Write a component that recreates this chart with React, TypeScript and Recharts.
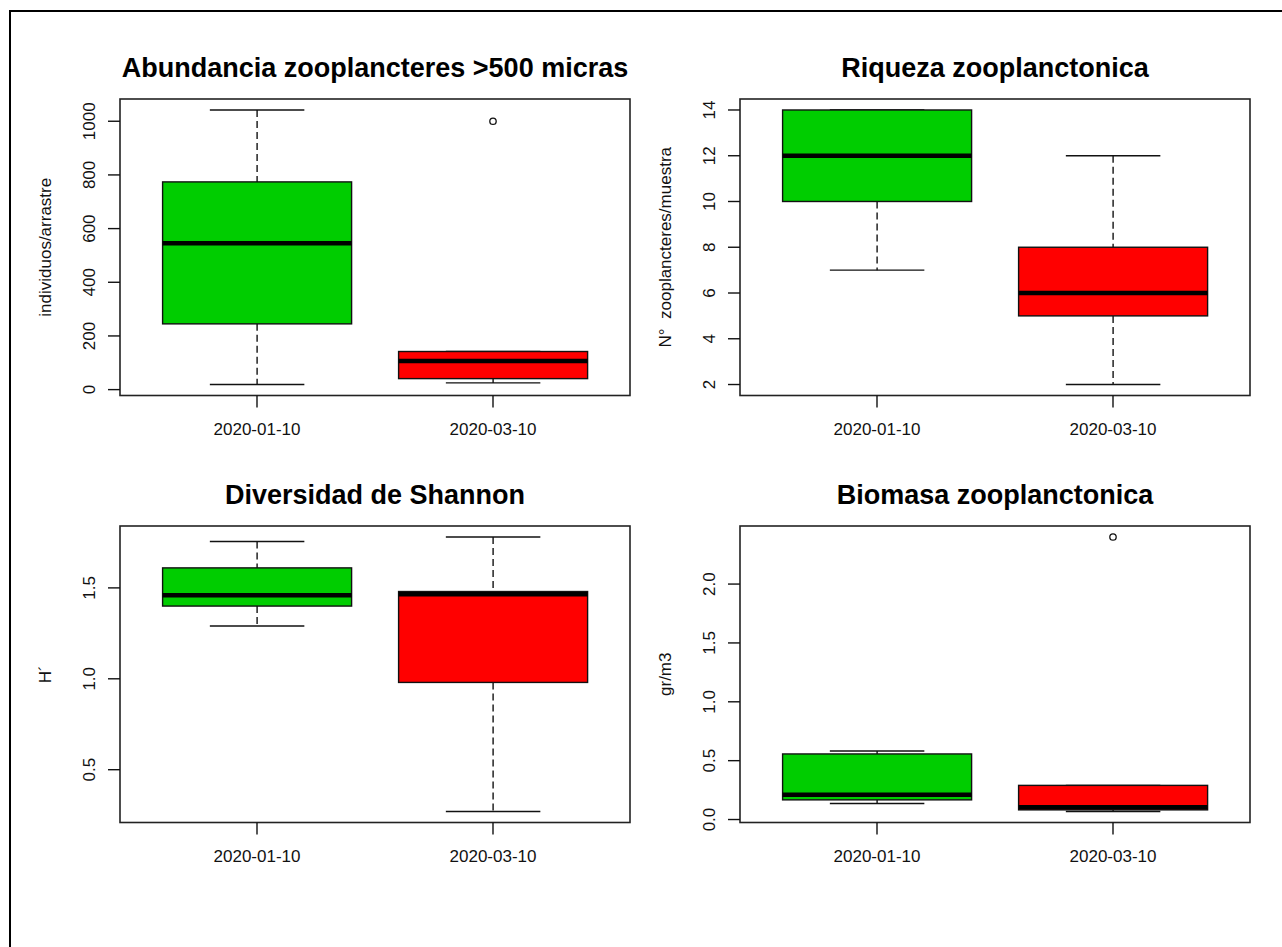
import React from 'react';
import { ComposedChart, Bar, Scatter, XAxis, YAxis, ReferenceArea } from 'recharts';

// Sampling dates shared by all four panels
const categories = ['2020-01-10', '2020-03-10'];
const boxColors = ['#00CD00', '#FF0000'];

// Abundancia zooplancteres >500 micras (individuos/arrastre)
const abundLow = [19, 25];
const abundQ1 = [245, 41];
const abundMedian = [545, 107];
const abundQ3 = [774, 142];
const abundHigh = [1042, 142];
const abundOutliers: number[][] = [[], [1000]];
const abundTicks = [0, 200, 400, 600, 800, 1000];

// Riqueza zooplanctonica (N° zooplancteres/muestra)
const riqLow = [7, 2];
const riqQ1 = [10, 5];
const riqMedian = [12, 6];
const riqQ3 = [14, 8];
const riqHigh = [14, 12];
const riqOutliers: number[][] = [[], []];
const riqTicks = [2, 4, 6, 8, 10, 12, 14];

// Diversidad de Shannon (H')
const shanLow = [1.29, 0.27];
const shanQ1 = [1.4, 0.98];
const shanMedian = [1.46, 1.465];
const shanQ3 = [1.61, 1.48];
const shanHigh = [1.755, 1.78];
const shanOutliers: number[][] = [[], []];
const shanTicks = [0.5, 1.0, 1.5];

// Biomasa zooplanctonica (gr/m3)
const bioLow = [0.136, 0.068];
const bioQ1 = [0.167, 0.082];
const bioMedian = [0.21, 0.105];
const bioQ3 = [0.557, 0.29];
const bioHigh = [0.582, 0.29];
const bioOutliers: number[][] = [[], [2.4]];
const bioTicks = [0.0, 0.5, 1.0, 1.5, 2.0];

const FONT = '"Liberation Sans", Arial, sans-serif';
const INK = '#111';

type PanelDef = {
  title: string;
  yTitle: string;
  low: number[];
  q1: number[];
  median: number[];
  q3: number[];
  high: number[];
  outliers: number[][];
  ticks: number[];
  decimals: number;
};

const panels: PanelDef[] = [
  { title: 'Abundancia zooplancteres >500 micras', yTitle: 'individuos/arrastre', low: abundLow, q1: abundQ1, median: abundMedian, q3: abundQ3, high: abundHigh, outliers: abundOutliers, ticks: abundTicks, decimals: 0 },
  { title: 'Riqueza zooplanctonica', yTitle: 'N°\u00a0 zooplancteres/muestra', low: riqLow, q1: riqQ1, median: riqMedian, q3: riqQ3, high: riqHigh, outliers: riqOutliers, ticks: riqTicks, decimals: 0 },
  { title: 'Diversidad de Shannon', yTitle: 'H´', low: shanLow, q1: shanQ1, median: shanMedian, q3: shanQ3, high: shanHigh, outliers: shanOutliers, ticks: shanTicks, decimals: 1 },
  { title: 'Biomasa zooplanctonica', yTitle: 'gr/m3', low: bioLow, q1: bioQ1, median: bioMedian, q3: bioQ3, high: bioHigh, outliers: bioOutliers, ticks: bioTicks, decimals: 1 },
];

// Chart frame geometry (each panel is the same size)
const CHART_W = 640;
const CHART_H = 470;
const PANEL_POS = [
  { left: 0, top: 0 },
  { left: 620, top: 0 },
  { left: 0, top: 427 },
  { left: 620, top: 427 },
];
const MARGIN = { top: 99, right: 10, bottom: 24.5, left: 50 };
const Y_AXIS_W = 70;
const X_AXIS_H = 50;
const X_PAD = 19;

// Box with median, dashed whiskers and staples; positions derived from the bar's scaled range
function BoxShape(props: any) {
  const { x, y, width, height, payload } = props;
  if (!payload || height == null) return null;
  const { low, q1, median, q3, high, color } = payload;
  const toY = (v: number) => y + ((high - v) / (high - low)) * height;
  const cx = x + width / 2;
  const staple = width / 4;
  const yHigh = toY(high);
  const yQ3 = toY(q3);
  const yMed = toY(median);
  const yQ1 = toY(q1);
  const yLow = toY(low);
  const lw = 1.4;
  return (
    <g>
      {yQ3 - yHigh > 0.5 && (
        <line x1={cx} x2={cx} y1={yHigh} y2={yQ3} stroke={INK} strokeWidth={lw} strokeDasharray="7 4" />
      )}
      {yLow - yQ1 > 0.5 && (
        <line x1={cx} x2={cx} y1={yQ1} y2={yLow} stroke={INK} strokeWidth={lw} strokeDasharray="7 4" />
      )}
      <line x1={cx - staple} x2={cx + staple} y1={yHigh} y2={yHigh} stroke={INK} strokeWidth={lw} />
      <line x1={cx - staple} x2={cx + staple} y1={yLow} y2={yLow} stroke={INK} strokeWidth={lw} />
      <rect x={x} y={yQ3} width={width} height={yQ1 - yQ3} fill={color} stroke={INK} strokeWidth={lw} />
      <line x1={x} x2={x + width} y1={yMed} y2={yMed} stroke="#000" strokeWidth={4.5} />
    </g>
  );
}

function OutlierShape(props: any) {
  const { cx, cy } = props;
  if (cx == null || cy == null) return null;
  return <circle cx={cx} cy={cy} r={3.2} fill="none" stroke={INK} strokeWidth={1.3} />;
}

const makeYTick = (decimals: number) => (props: any) => {
  const { x, y, payload } = props;
  const bx = x - 13;
  return (
    <text x={bx} y={y} transform={`rotate(-90 ${bx} ${y})`} textAnchor="middle" fontSize={17} fontFamily={FONT} fill={INK}>
      {Number(payload.value).toFixed(decimals)}
    </text>
  );
};

const XTick = (props: any) => {
  const { x, y, payload } = props;
  return (
    <text x={x} y={y + 27.5} textAnchor="middle" fontSize={17} fontFamily={FONT} fill={INK}>
      {payload.value}
    </text>
  );
};

function Panel({ def }: { def: PanelDef }) {
  const rows = categories.map((date, i) => ({
    date,
    low: def.low[i],
    q1: def.q1[i],
    median: def.median[i],
    q3: def.q3[i],
    high: def.high[i],
    color: boxColors[i],
  }));
  const outlierRows = categories.flatMap((date, i) => def.outliers[i].map((value) => ({ date, value })));
  const all = [...def.low, ...def.high, ...def.outliers.flat()];
  const lo = Math.min(...all);
  const hi = Math.max(...all);
  const ext = (hi - lo) * 0.04;
  const domain: [number, number] = [lo - ext, hi + ext];

  return (
    <ComposedChart width={CHART_W} height={CHART_H} data={rows} margin={MARGIN} barCategoryGap="10%">
      <XAxis
        dataKey="date"
        type="category"
        allowDuplicatedCategory={false}
        padding={{ left: X_PAD, right: X_PAD }}
        height={X_AXIS_H}
        axisLine={false}
        tickLine={{ stroke: INK, strokeWidth: 1.4 }}
        tickSize={12}
        tickMargin={0}
        tick={<XTick />}
      />
      <YAxis
        type="number"
        domain={domain}
        ticks={def.ticks}
        interval={0}
        allowDataOverflow
        width={Y_AXIS_W}
        axisLine={false}
        tickLine={{ stroke: INK, strokeWidth: 1.4 }}
        tickSize={12}
        tickMargin={0}
        tick={makeYTick(def.decimals)}
        label={(p: any) => {
          const vb = p.viewBox || {};
          const bx = vb.x + vb.width - 69;
          const cy = vb.y + vb.height / 2;
          return (
            <text x={bx} y={cy} transform={`rotate(-90 ${bx} ${cy})`} textAnchor="middle" fontSize={17} fontFamily={FONT} fill={INK}>
              {def.yTitle}
            </text>
          );
        }}
      />
      <Bar
        dataKey={(d: any) => [d.low, d.high]}
        shape={(p: any) => <BoxShape {...p} />}
        isAnimationActive={false}
      />
      <Scatter data={outlierRows} dataKey="value" shape={(p: any) => <OutlierShape {...p} />} isAnimationActive={false} />
      {/* plot box around the full data region (including the category padding), with the panel title above it */}
      <ReferenceArea
        y1={domain[0]}
        y2={domain[1]}
        fill="none"
        fillOpacity={0}
        stroke="none"
        ifOverflow="visible"
        label={(p: any) => {
          const vb = p.viewBox || {};
          const fx = vb.x - X_PAD;
          const fw = vb.width + 2 * X_PAD;
          return (
            <g>
              <rect x={fx} y={vb.y} width={fw} height={vb.height} fill="none" stroke="#222" strokeWidth={1.6} />
              <text x={fx + fw / 2} y={vb.y - 21.7} textAnchor="middle" fontSize={27} fontWeight="bold" fontFamily={FONT} fill="#000">
                {def.title}
              </text>
            </g>
          );
        }}
      />
    </ComposedChart>
  );
}

export default function App() {
  return (
    <div style={{ position: 'absolute', left: 0, top: 0, width: 1282, height: 947, background: '#fff', overflow: 'hidden' }}>
      <div
        style={{
          position: 'absolute',
          left: 9,
          top: 10,
          width: 1282,
          height: 947,
          borderTop: '2px solid #000',
          borderLeft: '2px solid #000',
        }}
      />
      {panels.map((def, i) => (
        <div key={def.title} style={{ position: 'absolute', left: PANEL_POS[i].left, top: PANEL_POS[i].top }}>
          <Panel def={def} />
        </div>
      ))}
    </div>
  );
}
